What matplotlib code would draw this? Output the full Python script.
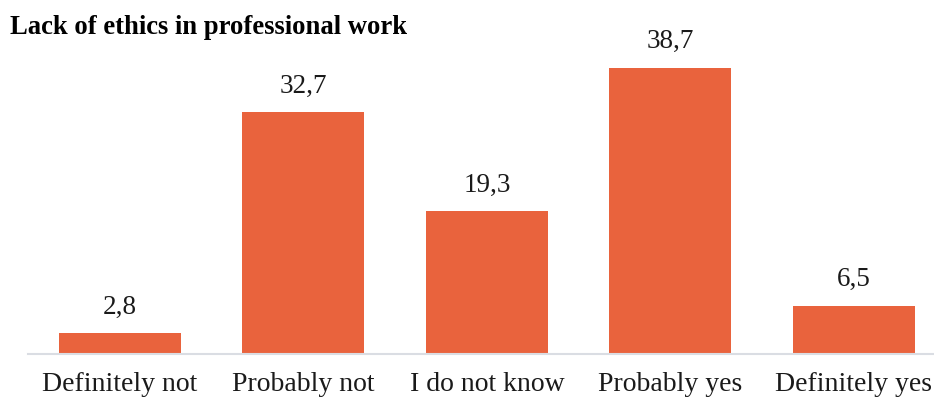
import matplotlib
matplotlib.use("Agg")
import matplotlib.pyplot as plt

categories = ["Definitely not", "Probably not", "I do not know", "Probably yes", "Definitely yes"]
values = [2.8, 32.7, 19.3, 38.7, 6.5]
value_labels = ["2,8", "32,7", "19,3", "38,7", "6,5"]
title = "Lack of ethics in professional work"

plt.rcParams["font.family"] = ["Liberation Serif", "DejaVu Serif"]

W, H = 934, 398
fig = plt.figure(figsize=(W / 100, H / 100), dpi=100)

# axes placed in pixel terms: baseline at y=354, left at x=28
ax_left, ax_right, ax_bottom, ax_top = 28, 934, 354, 0
ax = fig.add_axes([ax_left / W, (H - ax_bottom) / H,
                   (ax_right - ax_left) / W, (ax_bottom - ax_top) / H])

bar_color = "#E9633D"
x = list(range(len(categories)))
ax.bar(x, values, width=0.665, color=bar_color, zorder=2)

ax.set_xlim(-0.5, 4.436)
ax.set_ylim(0, 47.9)

for xi, v, lbl in zip(x, values, value_labels):
    ax.annotate(lbl, (xi, v), xytext=(0, 10), textcoords="offset points",
                ha="center", va="bottom", fontsize=19.5, color="#1a1a1a")

ax.set_xticks(x)
ax.set_xticklabels(categories, fontsize=20, color="#1a1a1a")
ax.tick_params(axis="x", length=0, pad=13)
ax.set_yticks([])

for side in ["top", "right", "left"]:
    ax.spines[side].set_visible(False)
ax.spines["bottom"].set_color("#DADDE3")
ax.spines["bottom"].set_linewidth(1.5)

fig.text(10 / W, 1 - 27 / H, title, fontsize=19.2, fontweight="bold",
         ha="left", va="center", color="#000000")

fig.savefig("out.png", dpi=100, facecolor="white")
